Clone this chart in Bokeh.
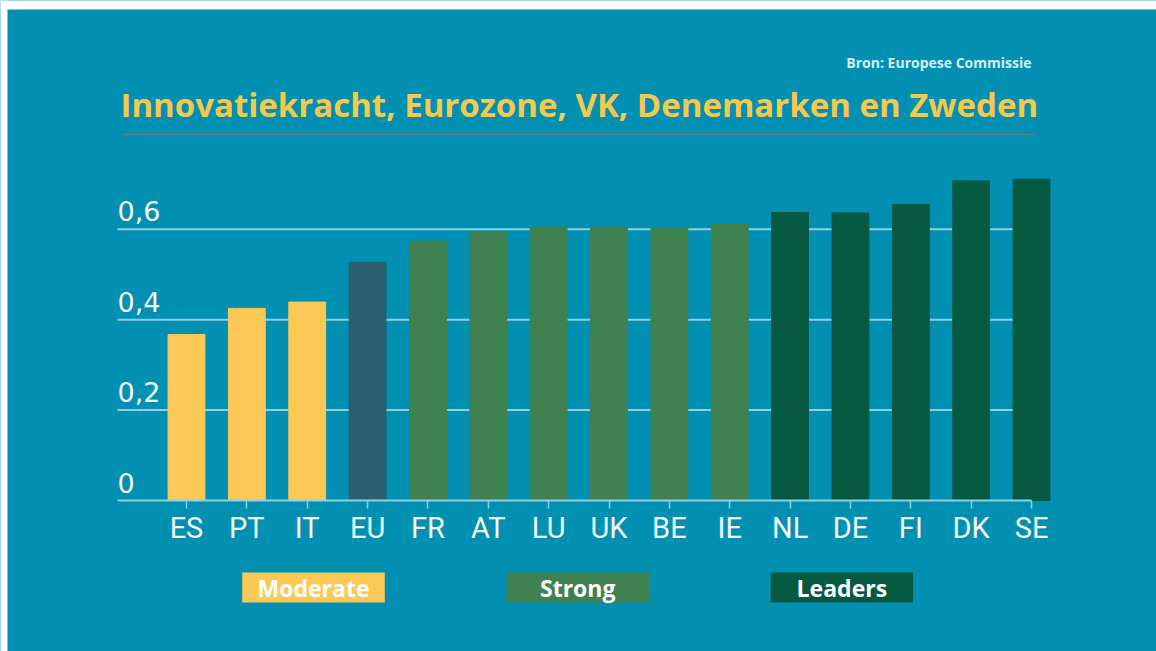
from bokeh.plotting import figure
from bokeh.models import ColumnDataSource, FixedTicker, Label, BoxAnnotation
from bokeh.core.properties import value
from bokeh.embed import file_html
from bokeh.resources import INLINE

# ---- data ----
categories = ["ES", "PT", "IT", "EU", "FR", "AT", "LU", "UK", "BE", "IE",
              "NL", "DE", "FI", "DK", "SE"]
scores = [0.367, 0.425, 0.439, 0.527, 0.574, 0.594, 0.605, 0.605, 0.604, 0.613,
          0.637, 0.636, 0.655, 0.707, 0.711]
groups = ["Moderate", "Moderate", "Moderate", "EU", "Strong", "Strong", "Strong",
          "Strong", "Strong", "Strong", "Leaders", "Leaders", "Leaders",
          "Leaders", "Leaders"]
y_ticks = [0, 0.2, 0.4, 0.6]
y_tick_labels = ["0", "0,2", "0,4", "0,6"]
legend_labels = ["Moderate", "Strong", "Leaders"]
title_text = "Innovatiekracht, Eurozone, VK, Denemarken en Zweden"
source_text = "Bron: Europese Commissie"

# ---- styles ----
BG = "#0190B2"
GRID = "#8FCFE2"
COLORS = {"Moderate": "#FCC856", "EU": "#2A5F70",
          "Strong": "#3F8150", "Leaders": "#065A42"}
TITLE_C = "#F6C94C"
TEXT_C = "#F4F8FA"

W, H = 1156, 651
STEP = 60.36      # px per category
X_ORIGIN = 186.0  # px of first category centre
Y_BASE = 500.0    # px of value 0
Y_SCALE = 452.0   # px per unit


def px2x(px):
    return (px - X_ORIGIN) / STEP


def py2y(py):
    return (Y_BASE - py) / Y_SCALE


p = figure(width=W, height=H,
           x_range=(px2x(0), px2x(W)), y_range=(py2y(H), py2y(0)),
           output_backend="svg", toolbar_location=None,
           y_axis_location=None,
           min_border=0, min_border_left=0, min_border_right=0,
           min_border_top=0, min_border_bottom=0,
           background_fill_color=BG, border_fill_color=BG)
p.outline_line_color = None

# gridlines (only over the plotting width)
grid_vals = [v for v in y_ticks if v != 0]
p.segment(x0=[px2x(117)] * len(grid_vals), x1=[px2x(1032)] * len(grid_vals),
          y0=grid_vals, y1=grid_vals, line_color=GRID, line_width=2)

src = ColumnDataSource(dict(
    x=list(range(len(categories))),
    top=scores,
    color=[COLORS[g] for g in groups],
))
p.vbar(x="x", top="top", width=0.61, color="color", source=src)

# x axis fixed at value 0
p.xgrid.visible = False
p.ygrid.visible = False
ax = p.xaxis[0]
ax.fixed_location = 0
ax.ticker = FixedTicker(ticks=list(range(len(categories))))
ax.major_label_overrides = {i: c for i, c in enumerate(categories)}
ax.axis_line_color = GRID
ax.axis_line_width = 2
ax.major_tick_line_color = GRID
ax.major_tick_line_width = 1.5
ax.major_tick_out = 8
ax.major_tick_in = 0
ax.minor_tick_out = 0
ax.minor_tick_in = 0
ax.major_label_text_font = "Roboto"
ax.major_label_text_font_size = "29px"
ax.major_label_text_color = TEXT_C
ax.major_label_standoff = 2
ax.bounds = (px2x(117), len(categories) - 1)

# y tick labels inside the plot
p.text(x=[px2x(117)] * len(y_ticks), y=y_ticks, text=y_tick_labels,
       text_baseline="alphabetic", text_align="left", y_offset=-18,
       text_font=value("DejaVu Sans"), text_font_size="27px",
       text_color=TEXT_C)

# title, source, underline
p.add_layout(Label(x=px2x(120), y=py2y(103.5), text=title_text,
                   text_font="Open Sans", text_font_style="bold",
                   text_font_size="33px", text_color=TITLE_C,
                   text_align="left", text_baseline="alphabetic"))
p.add_layout(Label(x=px2x(1031), y=py2y(62), text=source_text,
                   text_font="Open Sans", text_font_style="bold",
                   text_font_size="14px", text_color="#D6EEF6",
                   text_align="right", text_baseline="alphabetic"))
p.add_layout(BoxAnnotation(left=px2x(122), right=px2x(1035),
                           top=py2y(133.3), bottom=py2y(134.8),
                           fill_color="#5E7F88", fill_alpha=1,
                           line_color=None))

# legend boxes
legend_pos = [(241.7, 384.3), (506, 648.5), (770, 912.7)]
legend_colors = [COLORS["Moderate"], COLORS["Strong"], COLORS["Leaders"]]
for lab, col, (l, r) in zip(legend_labels, legend_colors, legend_pos):
    p.add_layout(BoxAnnotation(left=px2x(l), right=px2x(r),
                               top=py2y(572), bottom=py2y(602),
                               fill_color=col, fill_alpha=1,
                               line_color=None))
    p.add_layout(Label(x=px2x((l + r) / 2), y=py2y(587.5), text=lab,
                       text_font="Open Sans", text_font_style="bold",
                       text_font_size="23px",
                       text_color="#FFFFFF", text_align="center",
                       text_baseline="middle"))

# white page border at left and top of the panel
p.add_layout(BoxAnnotation(right=px2x(7), fill_color="white", fill_alpha=1,
                           line_color=None))
p.add_layout(BoxAnnotation(bottom=py2y(9), fill_color="white", fill_alpha=1,
                           line_color=None))

open("out.html", "w").write(file_html(p, INLINE))
